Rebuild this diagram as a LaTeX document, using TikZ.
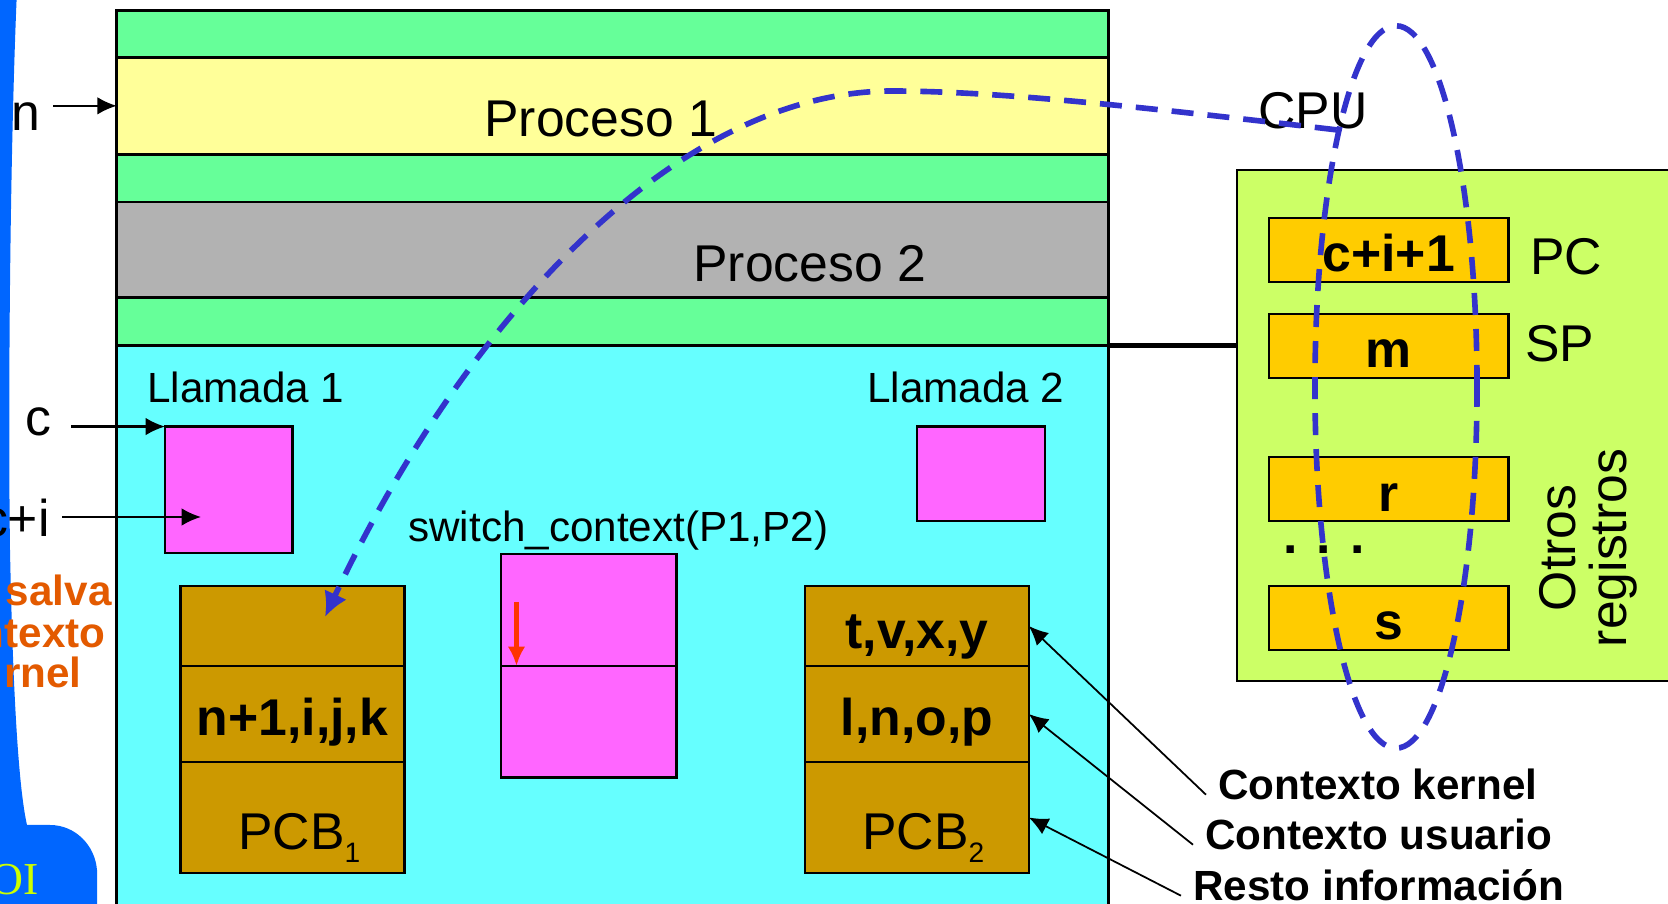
\documentclass[tikz,border=0pt]{standalone}
\usepackage{fontspec}
\setmainfont{Liberation Sans}
\newfontfamily\oifamily{Liberation Serif}
\usetikzlibrary{arrows.meta, shapes.geometric}

\definecolor{memgreen}{RGB}{102,255,153}
\definecolor{procyellow}{RGB}{255,255,153}
\definecolor{procgray}{RGB}{178,178,178}
\definecolor{kerncyan}{RGB}{102,255,255}
\definecolor{callpink}{RGB}{255,102,255}
\definecolor{pcbbrown}{RGB}{204,153,0}
\definecolor{cpugreen}{RGB}{204,255,102}
\definecolor{regyellow}{RGB}{255,204,0}
\definecolor{stripblue}{RGB}{0,102,255}
\definecolor{pathblue}{RGB}{51,51,204}
\definecolor{salvaorange}{RGB}{227,90,0}
\definecolor{oilime}{RGB}{204,255,0}
\definecolor{swred}{RGB}{255,51,0}

\newcommand{\procfont}{\fontsize{14.7}{17}\selectfont}
\newcommand{\callfont}{\fontsize{12}{14}\selectfont}
\newcommand{\regfont}{\fontsize{14.7}{17}\selectfont\bfseries}
\newcommand{\notefont}{\fontsize{12}{14}\selectfont\bfseries}
\newcommand{\subidx}[1]{\raisebox{-0.25em}{\fontsize{8}{8}\selectfont #1}}

\begin{document}
\begin{tikzpicture} [x=0.01cm, y=-0.01cm,
    >={Latex[length=5.5pt, width=5pt]},
    box/.style={draw, line width=0.7pt, inner sep=0pt, outer sep=0pt},
    band/.style={box, line width=0.8pt, minimum width=9.915cm},
    reg/.style={box, fill=regyellow, minimum width=2.395cm, minimum height=0.64cm,
                font=\regfont, text height=0.5cm, text depth=0.06cm},
    pcb/.style={box, fill=pcbbrown, minimum width=2.235cm, font=\regfont,
                text height=0.5cm, text depth=0.06cm},
    call/.style={box, fill=callpink},
    note/.style={font=\notefont, anchor=base west},
    dashpath/.style={pathblue, line width=1.6pt, dash pattern=on 0.22cm off 0.14cm}]

\useasboundingbox (0,0) rectangle (1668,904);
\clip (0,0) rectangle (1668,904);

\fill[stripblue] (0,-10) -- (17,-10) .. controls (10,150) and (8,400) .. (10,550)
      .. controls (13,700) and (19,790) .. (27,825) -- (50,825)
      .. controls (75,825) and (95,845) .. (97,870) -- (97,915) -- (0,915) -- cycle;

\path (612.75,34) node[band, fill=memgreen, minimum height=0.468cm] (g0) {}
      (612.75,105.85) node[band, fill=procyellow, minimum height=0.969cm] (p1) {}
      (612.75,178.2) node[band, fill=memgreen, minimum height=0.478cm] (g1) {}
      (612.75,250) node[band, fill=procgray, minimum height=0.958cm] (p2) {}
      (612.75,321.8) node[band, fill=memgreen, minimum height=0.478cm] (g2) {}
      (612.75,635.35) node[band, fill=kerncyan, minimum height=5.793cm] (kern) {};

\path (472,137) node[anchor=base west, font=\procfont] (p1name) {Proceso 1}
      (681,282) node[anchor=base west, font=\procfont] (p2name) {Proceso 2}
      (135,403) node[anchor=base west, font=\callfont] (call1name) {Llamada 1}
      (855,403) node[anchor=base west, font=\callfont] (call2name) {Llamada 2}
      (396,542) node[anchor=base west, font=\callfont] (swname) {switch\_context(P1,P2)};

\path (228.75,489.8) node[call, minimum width=1.275cm, minimum height=1.264cm] (call1) {}
      (981,473.8) node[call, minimum width=1.28cm, minimum height=0.944cm] (call2) {}
      (588.8,610) node[call, minimum width=1.756cm, minimum height=1.12cm] (swa) {}
      (588.8,721.8) node[call, minimum width=1.756cm, minimum height=1.116cm] (swb) {};

\coordinate (swstart) at (516.5,602);
\draw[swred, line width=1.2pt, -{Latex[length=5.5pt, width=5pt]}] (swstart) -- (swstart |- swb.north);

\path (292.5,626) node[pcb, minimum height=0.8cm] (pcba1) {}
      (292.5,714) node[pcb, minimum height=0.96cm] (pcbb1) {n+1,i,j,k}
      (292.5,817.5) node[pcb, minimum height=1.11cm] (pcbc1) {}
      (917,626) node[pcb, minimum height=0.8cm] (pcba2) {t,v,x,y}
      (917,714) node[pcb, minimum height=0.96cm] (pcbb2) {l,n,o,p}
      (917,817.5) node[pcb, minimum height=1.11cm] (pcbc2) {};

\path (226,850) node[anchor=base west, font=\procfont] (pcbname1) {PCB\subidx{1}}
      (850,850) node[anchor=base west, font=\procfont] (pcbname2) {PCB\subidx{2}};

\path (53,131) node[anchor=base east, font=\procfont] (lbln) {n}
      (64,436) node[anchor=base east, font=\procfont] (lblc) {c}
      (62,537) node[anchor=base east, font=\procfont] (lblci) {c+i};
\coordinate (ci) at (201,517);
\draw[line width=0.6pt, ->] (lbln.east |- p1.west) -- (p1.west);
\draw[line width=0.6pt, ->] ([xshift=2pt]lblc.east |- call1.north west) -- (call1.north west);
\draw[line width=0.6pt, ->] (lblci.east |- ci) -- (ci);

\path (124,606) node[anchor=base east, font=\notefont, salvaorange] (salva1) {salva}
      (118,648) node[anchor=base east, font=\notefont, salvaorange] (salva2) {ntexto}
      (94,688) node[anchor=base east, font=\notefont, salvaorange] (salva3) {rnel}
      (51,895) node[anchor=base east, font=\oifamily\fontsize{13}{15}\selectfont, oilime] (oi) {OI};

\path (1463.5,425.7) node[box, fill=cpugreen, minimum width=4.53cm, minimum height=5.106cm] (cpu) {};
\draw[line width=1.2pt] (kern.north east) -- (kern.north east -| cpu.west);

\path (1388.75,250) node[reg] (pc) {c+i+1}
      (1388.75,345.8) node[reg] (sp) {m}
      (1388.75,489.2) node[reg] (rr) {r}
      (1388.75,618) node[reg] (ss) {s};

\path (1246,129) node[anchor=base west, font=\procfont] (cpuname) {CPU}
      (1518,275) node[anchor=base west, font=\procfont] (pcname) {PC}
      (1513,361.5) node[anchor=base west, font=\procfont] (spname) {SP}
      (1324,554) node[anchor=base, font=\regfont] (dots) {. . .}
      (1588,548) node[rotate=90, align=center, inner sep=0pt,
                      font=\fontsize{14.7}{14.5}\selectfont] (otros) {Otros\\registros};

\path (1396,387) node[ellipse, draw, dashpath, minimum width=1.62cm, minimum height=7.22cm,
                      inner sep=0pt] (ctx) {};

\path (1206,800) node[note] (ctxk) {Contexto kernel}
      (1193,850) node[note] (ctxu) {Contexto usuario}
      (1181,901) node[note] (resto) {Resto información};
\draw[line width=0.5pt, ->] ([yshift=1.5pt]ctxk.base west) -- (pcba2.east);
\draw[line width=0.5pt, ->] ([yshift=1.5pt]ctxu.base west) -- (pcbb2.east);
\draw[line width=0.5pt, ->] ([yshift=1.5pt]resto.base west) -- (pcbc2.east);

\coordinate (pcbtip) at (325,617);
\draw[dashpath, -{Latex[length=7pt, width=7pt]}] (ctx.103) .. controls (1150,108) and (1000,91) .. (890,91)
      .. controls (660,93) and (450,350) .. (pcbtip);

\end{tikzpicture}
\end{document}
